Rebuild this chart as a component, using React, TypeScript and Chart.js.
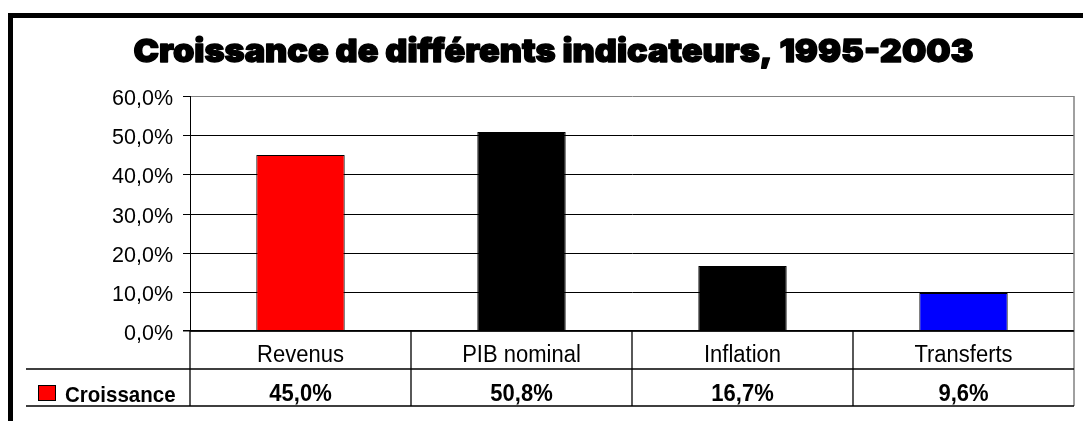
import React, { useEffect, useRef } from 'react';
import { Chart, registerables } from 'chart.js';

Chart.register(...registerables);

const chartTitle = 'Croissance de différents indicateurs, 1995-2003';
const categories = ['Revenus', 'PIB nominal', 'Inflation', 'Transferts'];
const seriesName = 'Croissance';
const croissance = [45.0, 50.8, 16.7, 9.6];
const barColors = ['#FF0000', '#000000', '#000000', '#0000FF'];
const legendColor = '#FF0000';
const yMin = 0;
const yMax = 60;
const yStep = 10;

const SANS = '"Liberation Sans", Arial, sans-serif';
const HEAVY = 'Inter, "Lato", "DejaVu Sans", sans-serif';

const fmt = (v: number) => v.toFixed(1).replace('.', ',') + '%';

function stretchedText(
  ctx: CanvasRenderingContext2D,
  text: string,
  x: number,
  y: number,
  font: string,
  align: CanvasTextAlign,
  sy: number,
) {
  ctx.save();
  ctx.font = font;
  ctx.textAlign = align;
  ctx.textBaseline = 'alphabetic';
  ctx.translate(x, y);
  ctx.scale(1, sy);
  ctx.fillText(text, 0, 0);
  ctx.restore();
}

const excelPlugin = {
  id: 'excelDecor',
  beforeDraw(chart: any) {
    const ctx = chart.ctx as CanvasRenderingContext2D;
    ctx.save();
    ctx.fillStyle = '#ffffff';
    ctx.fillRect(0, 0, chart.width, chart.height);
    ctx.restore();
  },
  afterDraw(chart: any) {
    const ctx = chart.ctx as CanvasRenderingContext2D;
    const { left, right, top, bottom } = chart.chartArea;
    const n = categories.length;
    const colW = (right - left) / n;
    const row1 = bottom + 38;
    const row2 = bottom + 75;
    const legendLeft = 26;
    ctx.save();

    // outer chart border
    ctx.strokeStyle = '#000';
    ctx.lineWidth = 5;
    ctx.strokeRect(10.5, 15.5, chart.width + 40, chart.height + 40);

    // title, stretched to the reference's width and thickened
    ctx.fillStyle = '#000';
    ctx.font = `900 32px ${HEAVY}`;
    const tw = ctx.measureText(chartTitle).width;
    const targetW = 840;
    ctx.save();
    ctx.translate(553.5, 61.5);
    ctx.scale(targetW / tw, 1);
    ctx.textAlign = 'center';
    ctx.textBaseline = 'alphabetic';
    ctx.lineJoin = 'round';
    ctx.strokeStyle = '#000';
    ctx.lineWidth = 1.4;
    ctx.strokeText(chartTitle, 0, 0);
    ctx.fillText(chartTitle, 0, 0);
    ctx.restore();

    // plot area gray border (right)
    ctx.strokeStyle = '#808080';
    ctx.lineWidth = 1.5;
    ctx.beginPath();
    ctx.moveTo(right, top);
    ctx.lineTo(right, row2);
    ctx.stroke();

    // table lines
    ctx.strokeStyle = '#000';
    ctx.lineWidth = 1.3;
    ctx.beginPath();
    ctx.moveTo(left, bottom);
    ctx.lineTo(right, bottom);
    ctx.moveTo(legendLeft, row1);
    ctx.lineTo(right, row1);
    ctx.moveTo(legendLeft, row2);
    ctx.lineTo(right, row2);
    for (let i = 0; i < n; i++) {
      const x = left + i * colW;
      ctx.moveTo(x, bottom);
      ctx.lineTo(x, row2);
    }
    ctx.stroke();

    // category labels and values
    ctx.fillStyle = '#000';
    for (let i = 0; i < n; i++) {
      const cx = chart.scales.x.getPixelForValue(i);
      stretchedText(ctx, categories[i], cx, bottom + 31, `400 22px ${SANS}`, 'center', 1.06);
      stretchedText(ctx, fmt(croissance[i]), cx, row1 + 32, `700 22px ${SANS}`, 'center', 1.1);
    }

    // legend key
    ctx.fillStyle = legendColor;
    ctx.fillRect(38, row1 + 16, 17, 15);
    ctx.strokeStyle = '#000';
    ctx.lineWidth = 1;
    ctx.strokeRect(38.5, row1 + 16.5, 17, 15);
    ctx.fillStyle = '#000';
    stretchedText(ctx, seriesName, 65, row1 + 33, `700 20.5px ${SANS}`, 'left', 1.12);

    ctx.restore();
  },
};

export default function App() {
  const canvasRef = useRef<HTMLCanvasElement | null>(null);

  useEffect(() => {
    document.body.style.margin = '0';
    const canvas = canvasRef.current;
    if (!canvas) return;
    const chart = new Chart(canvas, {
      type: 'bar',
      data: {
        labels: categories,
        datasets: [
          {
            label: seriesName,
            data: croissance,
            backgroundColor: barColors,
            borderColor: '#000000',
            borderWidth: 1,
            categoryPercentage: 1,
            barPercentage: 0.4,
          },
        ],
      },
      options: {
        animation: false,
        responsive: false,
        devicePixelRatio: 1,
        layout: { padding: { left: 0, right: 9, top: 96, bottom: 90 } },
        plugins: {
          legend: { display: false },
          title: { display: false },
          tooltip: { enabled: false },
        },
        scales: {
          x: {
            display: false,
          },
          y: {
            min: yMin,
            max: yMax,
            alignToPixels: true,
            afterFit: (scale: any) => {
              scale.width = 190;
            },
            ticks: {
              stepSize: yStep,
              callback: (v: any) => fmt(Number(v)),
              color: '#000',
              font: { family: SANS, size: 21.5 },
              padding: 10,
              labelOffset: 3,
            },
            grid: {
              color: (c: any) => (c.tick && c.tick.value === yMax ? '#808080' : '#000'),
              lineWidth: (c: any) => (c.tick && c.tick.value === yMin ? 1.5 : 1),
              tickLength: 7,
              tickColor: '#000',
            },
            border: { display: true, color: '#000', width: 1 },
          },
        },
      },
      plugins: [excelPlugin],
    });
    return () => chart.destroy();
  }, []);

  return <canvas ref={canvasRef} width={1083} height={421} style={{ display: 'block' }} />;
}
